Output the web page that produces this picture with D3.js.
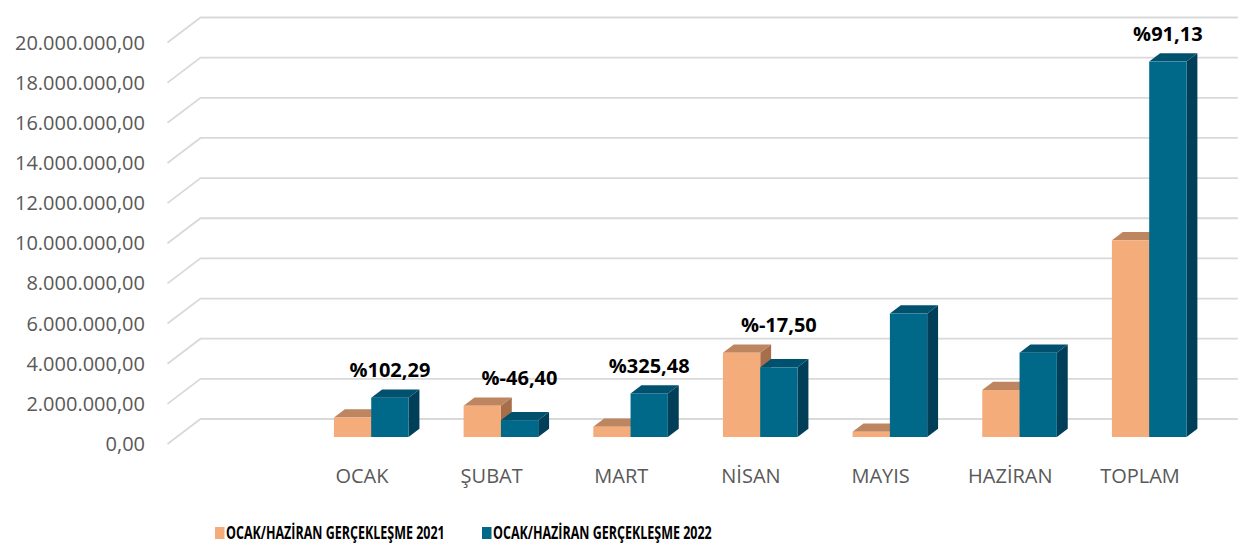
<!DOCTYPE html>
<html>
<head>
<meta charset="utf-8">
<script src="https://cdn.jsdelivr.net/npm/d3@7"></script>
<style>
  body { margin: 0; background: #fff; }
  svg { display: block; font-family: "Open Sans", sans-serif; }
</style>
</head>
<body>
<svg id="chart" width="1240" height="547"></svg>
<script>
// data
const categories = ["", "OCAK", "ŞUBAT", "MART", "NİSAN", "MAYIS", "HAZİRAN", "TOPLAM"];
const values2021 = [null, 970000, 1560000, 510000, 4200000, 260000, 2340000, 9800000];
const values2022 = [null, 1960000, 840000, 2170000, 3470000, 6150000, 4200000, 18700000];
const changeLabels = ["", "%102,29", "%-46,40", "%325,48", "%-17,50", "", "", "%91,13"];
const yTicks = [0, 2e6, 4e6, 6e6, 8e6, 10e6, 12e6, 14e6, 16e6, 18e6, 20e6];
const seriesNames = ["OCAK/HAZİRAN GERÇEKLEŞME 2021", "OCAK/HAZİRAN GERÇEKLEŞME 2022"];

const colors = [
  { front: "#F4AC7A", top: "#BD8560", side: "#A66E4B" },
  { front: "#006989", top: "#00516E", side: "#003F57" }
];

const svg = d3.select("#chart");

// 3D depth vector of the floor (front edge -> back wall)
const depth = { dx: 33, dy: -25 };
const barFront = 0.28, barBack = 0.61;

const x = d3.scaleBand().domain(categories.map((d, i) => i)).range([167.5, 1204.8]);
const y = d3.scaleLinear().domain([0, 20e6]).range([444, 42.5]);

const fmt = (v) => {
  const s = Math.round(v).toString().replace(/\B(?=(\d{3})+(?!\d))/g, ".");
  return s + ",00";
};

// gridlines (front-left diagonal, then along the back wall)
const grid = svg.append("g");
yTicks.forEach((t) => {
  const yf = y(t);
  grid.append("path")
    .attr("d", `M${x.range()[0]},${yf} L${x.range()[0] + depth.dx},${yf + depth.dy} L${x.range()[1] + depth.dx},${yf + depth.dy}`)
    .attr("fill", "none")
    .attr("stroke", "#D9D9D9")
    .attr("stroke-width", 1.8);
});

// y axis labels
svg.append("g")
  .selectAll("text")
  .data(yTicks)
  .join("text")
  .attr("x", 145)
  .attr("y", (d) => y(d))
  .attr("dy", "0.35em")
  .attr("text-anchor", "end")
  .attr("font-size", 20)
  .attr("fill", "#595959")
  .text(fmt);

// bars
const pairWidth = 74.6;
const barW = pairWidth / 2;
const bars = svg.append("g");

function drawBar(i, s, v) {
  if (v == null) return;
  const c = colors[s];
  const x0 = x(i) + x.bandwidth() / 2 - pairWidth / 2 + s * barW + depth.dx * barFront;
  const yb = y(0) + depth.dy * barFront;
  const yt = y(v) + depth.dy * barFront;
  const ox = depth.dx * (barBack - barFront);
  const oy = depth.dy * (barBack - barFront);
  const x1 = x0 + barW;
  bars.append("path")
    .attr("d", `M${x1},${yb} L${x1 + ox},${yb + oy} L${x1 + ox},${yt + oy} L${x1},${yt} Z`)
    .attr("fill", c.side);
  bars.append("path")
    .attr("d", `M${x0},${yt} L${x0 + ox},${yt + oy} L${x1 + ox},${yt + oy} L${x1},${yt} Z`)
    .attr("fill", c.top);
  bars.append("rect")
    .attr("x", x0)
    .attr("y", yt)
    .attr("width", barW)
    .attr("height", yb - yt)
    .attr("fill", c.front);
}

categories.forEach((cat, i) => {
  drawBar(i, 0, values2021[i]);
  drawBar(i, 1, values2022[i]);
});

// category labels
svg.append("g")
  .selectAll("text")
  .data(categories)
  .join("text")
  .attr("x", (d, i) => x(i) + x.bandwidth() / 2)
  .attr("y", 483)
  .attr("text-anchor", "middle")
  .attr("font-size", 20)
  .attr("fill", "#595959")
  .text((d) => d);

// change labels above each pair
svg.append("g")
  .selectAll("text")
  .data(changeLabels)
  .join("text")
  .attr("x", (d, i) => x(i) + x.bandwidth() / 2 + barW / 2 + depth.dx * barFront)
  .attr("y", (d, i) => {
    const top = Math.max(values2021[i] || 0, values2022[i] || 0);
    return y(top) + depth.dy * barBack - 12;
  })
  .attr("text-anchor", "middle")
  .attr("font-size", 20)
  .attr("font-weight", "bold")
  .attr("fill", "#000")
  .text((d) => d);

// legend (text squeezed horizontally to match the narrow original font)
const legendX = [215, 482];
const legendTextW = 219;
const legend = svg.append("g");
seriesNames.forEach((name, s) => {
  legend.append("rect")
    .attr("x", legendX[s])
    .attr("y", 527)
    .attr("width", 9.5)
    .attr("height", 12)
    .attr("fill", colors[s].front);
  const t = legend.append("text")
    .attr("x", 0)
    .attr("y", 0)
    .attr("font-size", 17.5)
    .attr("font-weight", "bold")
    .attr("fill", "#000")
    .text(name);
  const w = t.node().getComputedTextLength();
  t.attr("transform", `translate(${legendX[s] + 11},539) scale(${legendTextW / w},1)`);
});
</script>
</body>
</html>
